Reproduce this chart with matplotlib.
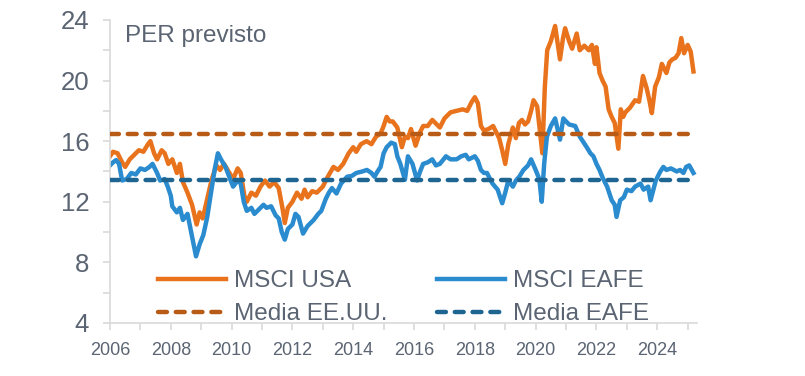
import matplotlib.pyplot as plt
from matplotlib.ticker import MultipleLocator

plt.rcParams["font.family"] = ["Liberation Sans", "DejaVu Sans"]

usa_years = [
    2006.00, 2006.10, 2006.25, 2006.40, 2006.50, 2006.65, 2006.80, 2006.95,
    2007.10, 2007.25, 2007.33, 2007.45, 2007.55, 2007.70, 2007.80, 2007.92,
    2008.05, 2008.20, 2008.30, 2008.40, 2008.55, 2008.70, 2008.85, 2008.95,
    2009.05, 2009.20, 2009.35, 2009.50, 2009.62, 2009.75, 2009.90, 2010.05,
    2010.20, 2010.30, 2010.42, 2010.50, 2010.65, 2010.80, 2010.95, 2011.10,
    2011.25, 2011.40, 2011.55, 2011.68, 2011.75, 2011.85, 2012.00, 2012.15,
    2012.30, 2012.40, 2012.50, 2012.65, 2012.80, 2013.00, 2013.15, 2013.35,
    2013.50, 2013.67, 2013.85, 2014.00, 2014.10, 2014.25, 2014.44, 2014.60,
    2014.75, 2014.90, 2015.00, 2015.10, 2015.20, 2015.30, 2015.45, 2015.60,
    2015.70, 2015.80, 2015.90, 2016.05, 2016.20, 2016.30, 2016.45, 2016.60,
    2016.75, 2016.85, 2017.00, 2017.20, 2017.40, 2017.60, 2017.75, 2017.90,
    2018.00, 2018.10, 2018.20, 2018.30, 2018.45, 2018.60, 2018.70, 2018.80,
    2018.90, 2019.00, 2019.10, 2019.25, 2019.35, 2019.45, 2019.55, 2019.65,
    2019.75, 2019.85, 2019.93, 2020.05, 2020.15, 2020.22, 2020.30, 2020.38,
    2020.50, 2020.64, 2020.72, 2020.80, 2020.90, 2020.97, 2021.10, 2021.20,
    2021.35, 2021.45, 2021.60, 2021.75, 2021.85, 2021.95, 2022.00, 2022.10,
    2022.20, 2022.30, 2022.40, 2022.50, 2022.60, 2022.72, 2022.80, 2022.88,
    2022.95, 2023.10, 2023.27, 2023.40, 2023.53, 2023.65, 2023.75, 2023.82,
    2023.93, 2024.05, 2024.15, 2024.30, 2024.40, 2024.50, 2024.60, 2024.70,
    2024.79, 2024.88, 2025.00, 2025.10, 2025.19,
]
usa_pe = [
    15.0, 15.3, 15.2, 14.6, 14.3, 14.8, 15.1, 15.4,
    15.3, 15.8, 16.0, 15.2, 14.8, 15.4, 15.2, 14.5,
    14.8, 13.9, 14.5, 13.3, 12.6, 11.8, 10.5, 11.3,
    10.9, 12.2, 13.5, 14.4, 14.1, 14.5, 14.0, 13.5,
    14.2, 13.9, 12.4, 12.0, 12.6, 12.4, 13.0, 13.4,
    13.0, 13.3, 12.9, 11.5, 10.6, 11.6, 12.0, 12.6,
    12.2, 12.8, 12.3, 12.7, 12.6, 13.0, 13.6, 14.3,
    14.1, 14.5, 15.2, 15.6, 15.3, 15.8, 16.0, 15.8,
    16.3, 16.5, 17.0, 17.6, 17.3, 17.3, 16.9, 15.6,
    16.3, 16.2, 16.8, 15.7, 16.6, 17.0, 17.0, 17.4,
    17.1, 16.9, 17.5, 17.9, 18.0, 18.1, 18.0, 18.6,
    18.9, 18.5, 17.0, 16.7, 16.8, 17.0, 16.6, 16.2,
    15.4, 14.5, 15.8, 16.9, 16.2, 17.2, 17.4, 17.1,
    17.3, 18.0, 18.7, 18.3, 16.5, 15.2, 19.5, 22.0,
    22.6, 23.6, 22.5, 21.4, 22.8, 23.45, 22.6, 22.1,
    23.1, 22.0, 22.3, 22.0, 22.35, 21.1, 22.2, 20.5,
    20.0, 19.6, 18.1, 17.6, 17.2, 15.5, 18.1, 17.6,
    17.9, 18.2, 18.7, 18.6, 20.3, 19.5, 18.6, 17.85,
    19.6, 20.2, 21.1, 20.5, 21.2, 21.4, 21.5, 21.8,
    22.8, 21.8, 22.35, 21.9, 20.6,
]

eafe_years = [
    2006.00, 2006.10, 2006.20, 2006.30, 2006.40, 2006.55, 2006.70, 2006.85,
    2007.00, 2007.15, 2007.30, 2007.40, 2007.55, 2007.65, 2007.80, 2007.90,
    2008.00, 2008.05, 2008.20, 2008.30, 2008.40, 2008.55, 2008.65, 2008.75,
    2008.83, 2008.95, 2009.07, 2009.20, 2009.30, 2009.45, 2009.55, 2009.65,
    2009.80, 2009.95, 2010.05, 2010.20, 2010.30, 2010.40, 2010.50, 2010.65,
    2010.75, 2010.90, 2011.05, 2011.15, 2011.30, 2011.45, 2011.55, 2011.65,
    2011.75, 2011.85, 2012.00, 2012.10, 2012.20, 2012.35, 2012.50, 2012.70,
    2012.85, 2012.95, 2013.10, 2013.20, 2013.30, 2013.45, 2013.60, 2013.80,
    2013.95, 2014.10, 2014.30, 2014.45, 2014.60, 2014.70, 2014.80, 2014.90,
    2015.00, 2015.10, 2015.25, 2015.37, 2015.45, 2015.55, 2015.70, 2015.80,
    2015.95, 2016.10, 2016.20, 2016.30, 2016.45, 2016.60, 2016.72, 2016.85,
    2017.05, 2017.20, 2017.40, 2017.55, 2017.70, 2017.80, 2017.90, 2018.00,
    2018.10, 2018.20, 2018.30, 2018.40, 2018.50, 2018.58, 2018.75, 2018.90,
    2019.00, 2019.10, 2019.25, 2019.35, 2019.46, 2019.60, 2019.75, 2019.85,
    2020.00, 2020.12, 2020.20, 2020.28, 2020.37, 2020.50, 2020.64, 2020.72,
    2020.80, 2020.91, 2021.00, 2021.10, 2021.30, 2021.45, 2021.55, 2021.68,
    2021.80, 2021.90, 2022.00, 2022.10, 2022.20, 2022.35, 2022.50, 2022.60,
    2022.66, 2022.78, 2022.90, 2023.00, 2023.15, 2023.27, 2023.45, 2023.55,
    2023.70, 2023.78, 2023.95, 2024.10, 2024.20, 2024.30, 2024.45, 2024.64,
    2024.75, 2024.86, 2024.95, 2025.05, 2025.19,
]
eafe_pe = [
    14.4, 14.6, 14.75, 14.5, 13.4, 13.5, 13.9, 13.8,
    14.2, 14.1, 14.3, 14.5, 13.9, 13.4, 13.5, 13.0,
    12.4, 11.7, 11.3, 11.6, 10.8, 11.2, 10.2, 9.2,
    8.4, 9.2, 9.8, 11.0, 12.3, 14.2, 15.2, 14.8,
    14.3, 13.5, 13.0, 13.4, 13.2, 12.0, 11.4, 11.6,
    11.2, 11.5, 11.8, 11.6, 11.7, 11.1, 10.9, 10.0,
    9.5, 10.2, 10.5, 11.2, 11.0, 9.9, 10.4, 10.8,
    11.2, 11.4, 12.2, 12.6, 12.9, 12.55, 13.2, 13.65,
    13.7, 13.9, 14.0, 14.1, 13.9, 13.65, 14.0, 14.3,
    15.2, 15.6, 15.9, 15.8, 15.0, 14.5, 13.45, 15.0,
    14.5, 13.4, 14.0, 14.5, 14.6, 14.8, 14.4, 14.5,
    15.0, 14.8, 14.8, 15.0, 15.1, 14.8, 14.9, 15.0,
    14.7, 14.1, 13.9, 13.9, 13.5, 13.2, 12.8, 11.9,
    12.6, 13.4, 13.0, 13.4, 13.65, 14.1, 14.4, 14.8,
    14.1, 13.5, 12.0, 14.5, 16.3, 17.0, 17.5, 16.8,
    16.1, 17.5, 17.3, 17.1, 17.0, 16.3, 16.0, 15.6,
    15.2, 15.0, 14.5, 14.1, 13.6, 13.0, 12.1, 11.8,
    11.0, 12.1, 12.3, 12.8, 12.7, 13.0, 13.2, 12.8,
    13.0, 12.1, 13.4, 14.0, 14.3, 14.1, 14.2, 14.0,
    14.1, 13.9, 14.3, 14.4, 13.9,
]

usa_avg = 16.45
eafe_avg = 13.45
avg_span = [2006.0, 2025.1]

text_color = "#5b6472"
axis_color = "#d9d9d9"

fig = plt.figure(figsize=(8.05, 3.76), dpi=100)
ax = fig.add_axes([0.1366, 0.141, 0.729, 0.806])

ax.plot(usa_years, usa_pe, color="#e8731c", lw=3.2, label="MSCI USA", zorder=2)
ax.plot(eafe_years, eafe_pe, color="#2a8bcf", lw=3.2, label="MSCI EAFE", zorder=2)
ax.plot(avg_span, [usa_avg, usa_avg], color="#b85b16", lw=3.2,
        dashes=(2.0, 2.0), dash_capstyle="round", label="Media EE.UU.", zorder=3)
ax.plot(avg_span, [eafe_avg, eafe_avg], color="#1f6592", lw=3.2,
        dashes=(2.0, 2.0), dash_capstyle="round", label="Media EAFE", zorder=3)

ax.set_xlim(2006, 2025.3)
ax.set_ylim(4, 24)
ax.xaxis.set_major_locator(MultipleLocator(2))
ax.xaxis.set_minor_locator(MultipleLocator(1))
ax.yaxis.set_major_locator(MultipleLocator(4))
ax.yaxis.set_minor_locator(MultipleLocator(2))
ax.xaxis.set_major_formatter(plt.FuncFormatter(lambda v, p: f"{int(v)}"))

for side in ("top", "right"):
    ax.spines[side].set_visible(False)
for side in ("left", "bottom"):
    ax.spines[side].set_color(axis_color)
    ax.spines[side].set_linewidth(1.2)

ax.tick_params(axis="both", which="both", color=axis_color, width=1.2,
               length=5, labelcolor=text_color)
ax.tick_params(axis="y", which="major", labelsize=18.5, pad=10)
ax.tick_params(axis="x", which="major", labelsize=13, pad=9)

ax.text(2006.5, 22.95, "PER previsto", fontsize=17.5, color=text_color,
        ha="left", va="center")

handles, labels = ax.get_legend_handles_labels()
order = [0, 2, 1, 3]
leg = ax.legend([handles[i] for i in order], [labels[i] for i in order],
                ncol=2, frameon=False, loc="lower left",
                bbox_to_anchor=(0.045, -0.08), fontsize=17.5,
                handlelength=2.8, handletextpad=0.3, columnspacing=2.07,
                labelspacing=0.46, labelcolor=text_color)

fig.savefig("out.png", dpi=100)
